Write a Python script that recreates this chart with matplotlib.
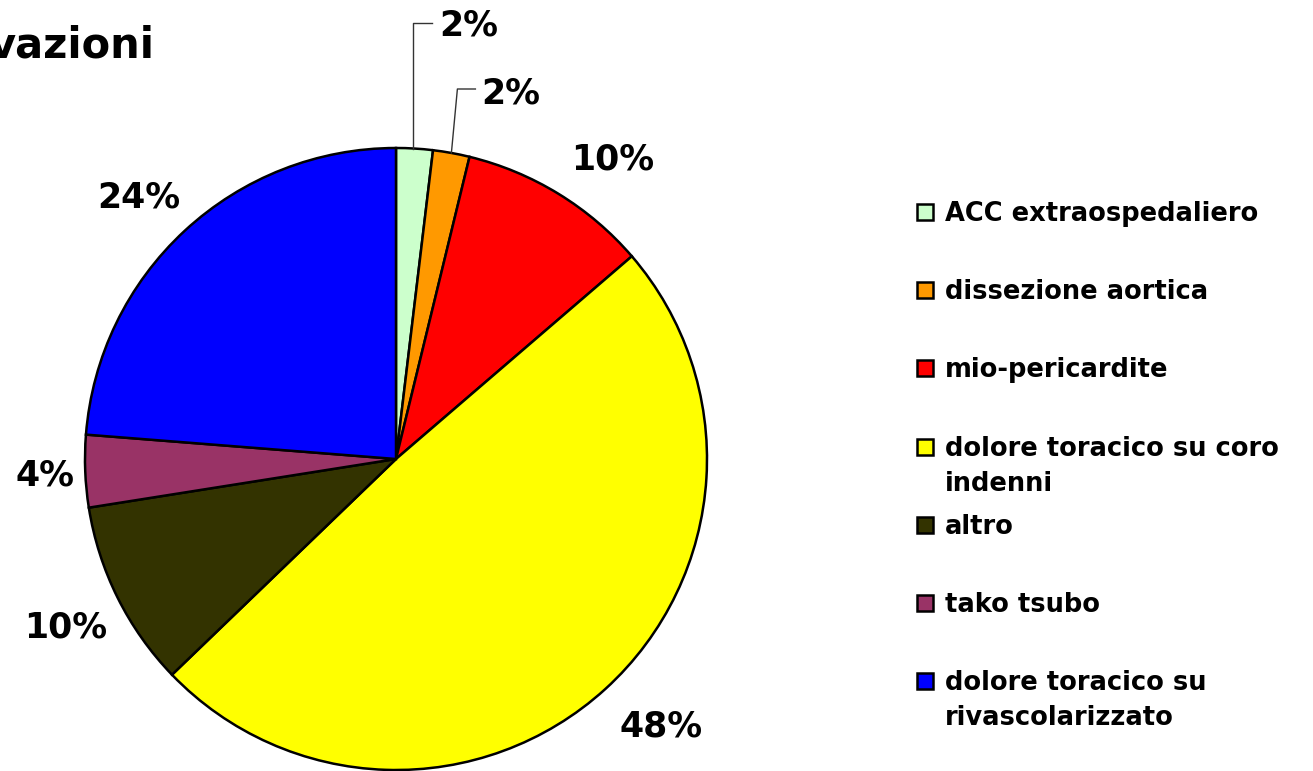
import numpy as np
import matplotlib
matplotlib.use("Agg")
import matplotlib.pyplot as plt
from matplotlib.patches import Rectangle

labels = ["ACC extraospedaliero", "dissezione aortica", "mio-pericardite",
          "dolore toracico su coro\nindenni", "altro", "tako tsubo",
          "dolore toracico su\nrivascolarizzato"]
# wedge shares as drawn in the picture
values = [1.9, 1.9, 9.9, 49.1, 9.7, 3.75, 23.75]
# percentage labels as printed on the chart
pct_labels = ["2%", "2%", "10%", "48%", "10%", "4%", "24%"]
colors = ["#CCFFCC", "#FF9900", "#FF0000", "#FFFF00", "#333300", "#993366", "#0000FF"]
title_text = "vazioni"

W, H = 1313, 771
fig = plt.figure(figsize=(W / 100, H / 100), dpi=100)
ax = fig.add_axes([0, 0, 1, 1])

cx, cy, R = 396, H - 459, 311
wedges, _ = ax.pie(values, colors=colors, startangle=90, counterclock=False,
                   center=(cx, cy), radius=R, frame=True,
                   wedgeprops=dict(edgecolor="black", linewidth=1.8))
ax.set_xlim(0, W)
ax.set_ylim(0, H)
ax.set_aspect("equal")
ax.axis("off")

fs_pct = 25
# label placement: (radius factor, angle nudge in degrees, clockwise)
place = {2: (1.19, 4.4), 3: (1.21, -2.4), 4: (1.19, -0.5), 5: (1.13, -0.3), 6: (1.18, -1.8)}
for i, (w, txt) in enumerate(zip(wedges, pct_labels)):
    mid_deg = (w.theta1 + w.theta2) / 2
    mid = np.deg2rad(mid_deg)
    ex, ey = cx + R * np.cos(mid), cy + R * np.sin(mid)
    if i == 0:
        ty = H - 23
        ax.plot([ex - 1.5, ex - 1.5, ex + 17.5], [ey, ty, ty], color="#333333", lw=1.0)
        ax.text(ex + 25, H - 36, txt, fontsize=fs_pct, fontweight="bold",
                ha="left", va="baseline")
    elif i == 1:
        ty = H - 89
        ax.plot([ex, ex + 6, ex + 24], [ey, ty, ty], color="#333333", lw=1.0)
        ax.text(ex + 30, H - 104, txt, fontsize=fs_pct, fontweight="bold",
                ha="left", va="baseline")
    else:
        d, nudge = place[i]
        a = np.deg2rad(mid_deg - nudge)
        ax.text(cx + d * R * np.cos(a), cy + d * R * np.sin(a) + 3, txt,
                fontsize=fs_pct, fontweight="bold", ha="center", va="center_baseline")

# legend
lx, ly0, dy = 917, H - 212, 78.2
for i, (lab, c) in enumerate(zip(labels, colors)):
    y = ly0 - i * dy
    ax.add_patch(Rectangle((lx, y - 8), 16, 16, facecolor=c, edgecolor="black", lw=1.8))
    for j, line in enumerate(lab.split("\n")):
        ax.text(lx + 28, y - 9 - j * 35, line, fontsize=18.5, fontweight="bold",
                ha="left", va="baseline")

ax.text(-12, H - 58, title_text, fontsize=30, fontweight="bold", ha="left", va="baseline")

fig.savefig("out.png", dpi=100)
